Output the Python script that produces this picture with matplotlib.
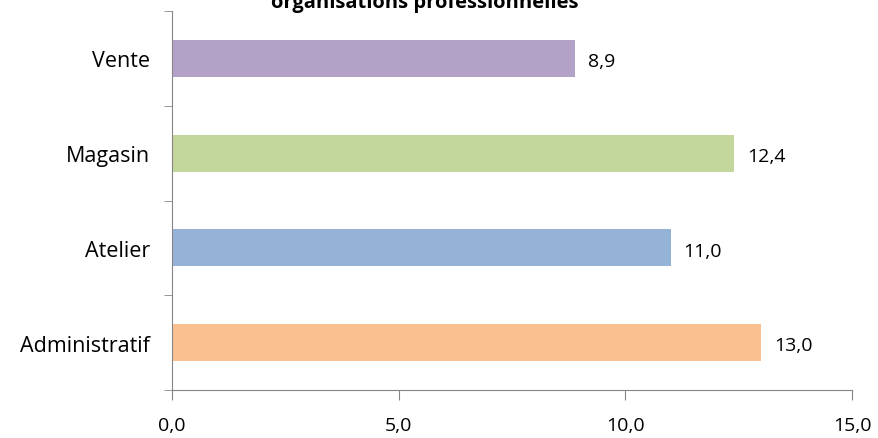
import matplotlib
matplotlib.use("Agg")
import matplotlib.pyplot as plt

# Data
categories = ["Administratif", "Atelier", "Magasin", "Vente"]
values = [13.0, 11.0, 12.4, 8.9]
colors = ["#fac090", "#95b3d7", "#c3d69b", "#b3a2c7"]
xticks = [0, 5, 10, 15]

plt.rcParams['font.family'] = ['Open Sans', 'DejaVu Sans']

fig = plt.figure(figsize=(8.79, 4.39), dpi=100)
ax = fig.add_axes([172/879, 1 - 391/439, 680/879, 379/439])

ax.barh(range(len(categories)), values, height=0.39, color=colors)

# value labels with a decimal comma
for i, v in enumerate(values):
    ax.text(v + 0.28, i - 0.03, f"{v:.1f}".replace(".", ","), va='center', ha='left', fontsize=14)

ax.set_xlim(0, 15)
ax.set_ylim(-0.5, len(categories) - 0.5)
ax.set_xticks(xticks)
ax.set_xticklabels([f"{t:.1f}".replace(".", ",") for t in xticks], fontsize=14)
ax.set_yticks(range(len(categories)))
ax.set_yticklabels(categories, fontsize=15.5)
ax.set_yticks([i - 0.5 for i in range(len(categories) + 1)], minor=True)
ax.tick_params(axis='y', which='major', length=0, pad=16)
ax.tick_params(axis='y', which='minor', length=6, color='#868686', direction='out')
ax.tick_params(axis='x', length=7, color='#868686', direction='out', pad=12)

for s in ['top', 'right']:
    ax.spines[s].set_visible(False)
for s in ['left', 'bottom']:
    ax.spines[s].set_color('#868686')

# title is cut off at the top edge, as in the original
fig.text(425/879, 1 - 8/439, "organisations professionnelles", ha='center', va='baseline',
         fontsize=14.5, fontweight='bold')

fig.savefig("out.png", dpi=100)
